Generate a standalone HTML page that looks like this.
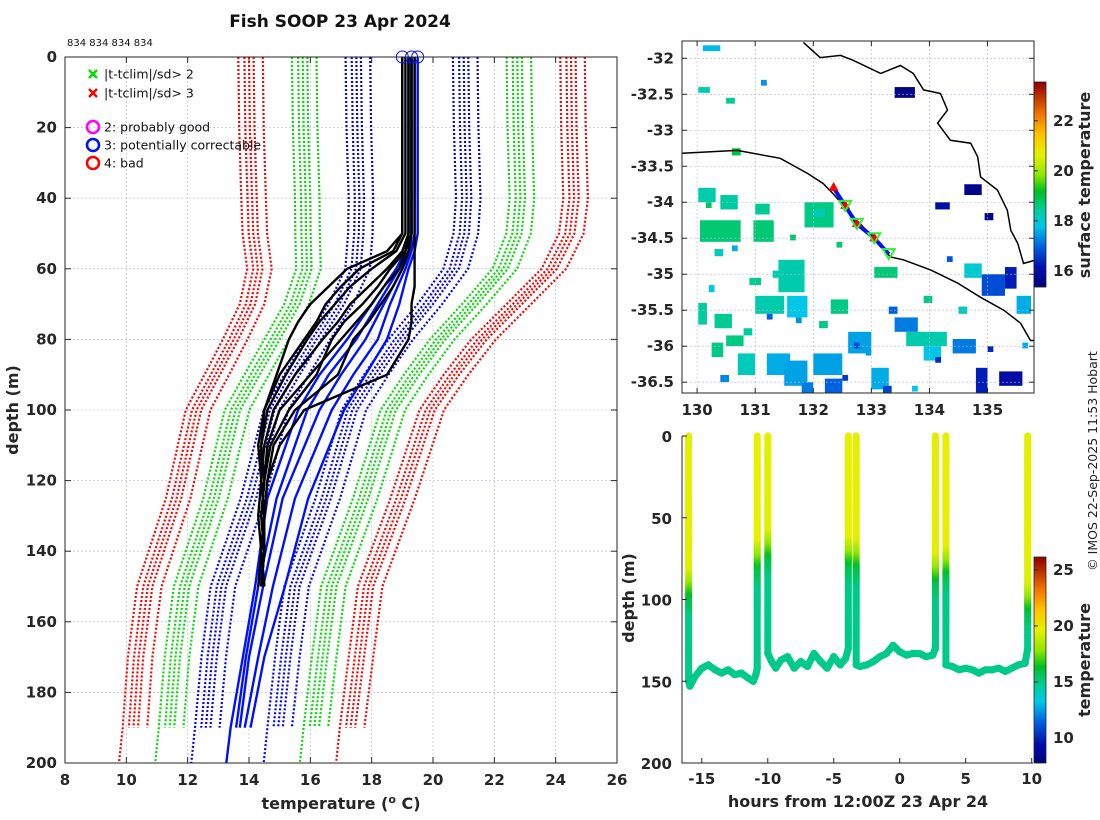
<!DOCTYPE html>
<html><head><meta charset="utf-8">
<style>
html,body{margin:0;padding:0;background:#fff;}
svg{display:block;font-family:"DejaVu Sans","Liberation Sans",sans-serif;}
.tk{font-size:15px;font-weight:bold;fill:#262626;}
.lab{font-size:16px;font-weight:bold;fill:#262626;}
.grid{stroke:#b0b8d8;stroke-width:0.6;stroke-dasharray:2,2;}
</style></head>
<body>
<svg id="fig" width="1100" height="820" viewBox="0 0 1100 820" xmlns="http://www.w3.org/2000/svg">
<g id="left"></g>
<g id="map"></g>
<g id="sect"></g>
<text x="340" y="27" text-anchor="middle" font-size="17" font-weight="bold" fill="#111">Fish SOOP 23 Apr 2024</text>
<text x="67" y="46" font-size="10" fill="#111">834 834 834 834</text>
<text transform="translate(1097,461) rotate(-90)" text-anchor="middle" font-size="12.5" fill="#222">© IMOS 22-Sep-2025 11:53 Hobart</text>
</svg>
<script>
// ---------- DATA ----------
const climDepth = [0,20,40,50,60,70,80,90,100,125,150,170,190,200];
const climMean  = [19.25,19.28,19.35,19.3,19.09,18.4,17.55,16.8,16.1,15.3,14.3,14.0,13.77,13.65];
const climSd    = [1.75,1.75,1.75,1.72,1.6,1.45,1.35,1.3,1.27,1.22,1.2,1.2,1.18,1.18];
const climOffsets = [-0.15,0,0.15,0.45,-0.35];
const climMaxDepth = [190,190,190,190,200];
const sdLevels = [1,2,3];

const blueDepth = [0,50,55,60,70,80,90,100,125,150,170,190,200];
const blue1 = [19.2,19.2,19.1,18.8,18.0,17.2,16.3,15.6,14.6,14.2,13.8,13.4,13.26];
const blue2 = [19.3,19.3,19.2,18.9,18.2,17.5,16.6,15.9,14.9,14.3,13.9,13.58];
const blue3 = [19.3,19.3,19.25,19.0,18.4,17.8,17.0,16.3,15.1,14.46,14.0,13.70];
const blue4 = [19.4,19.4,19.3,19.1,18.6,18.2,17.4,16.7,15.5,14.78,14.3,13.86];
const blue5 = [19.5,19.5,19.4,19.2,18.9,18.5,17.8,17.1,15.93,15.17,14.5,14.05];

const blackDepth = [0,50,55,60,65,70,75,80,90,100,110,120,130,140,150];
const black1 = [19.0,19.0,18.5,17.2,16.6,16.0,15.6,15.3,14.9,14.5,14.4,14.4,14.5,14.4,14.5];
const black2 = [19.1,19.1,18.8,18.0,17.3,16.8,16.3,15.9,15.2,14.6,14.4,14.5,14.4,14.5,14.4];
const black3 = [19.2,19.2,19.0,18.5,17.9,17.3,16.9,16.4,15.5,14.8,14.5,14.4,14.5,14.4,14.5];
const black4 = [19.2,19.2,19.1,18.9,18.4,18.0,17.5,17.0,16.0,15.0,14.6,14.5,14.4,14.5,14.4];
const black5 = [19.3,19.3,19.2,19.0,18.7,18.3,17.9,17.4,16.9,15.5,14.8,14.6,14.5,14.4,14.5];
const black6 = [19.4,19.4,19.4,19.4,19.4,19.3,19.3,19.2,18.5,15.8,15.0,14.6,14.5,14.5,14.4];
const black7 = [19.0,19.0,18.7,17.6,17.0,16.5,16.2,15.8,15.0,14.5,14.3,14.4,14.3,14.4,14.3];
const black8 = [19.3,19.3,19.1,18.6,18.2,17.7,17.1,16.7,16.2,15.3,14.7,14.5,14.4,14.5,14.4];
const surfaceFlagTemps = [19.0,19.3,19.5];

const tempTicks = [8,10,12,14,16,18,20,22,24,26];
const depthTicks = [0,20,40,60,80,100,120,140,160,180,200];

// map
const latTicks = [-32,-32.5,-33,-33.5,-34,-34.5,-35,-35.5,-36,-36.5];
const lonTicks = [130,131,132,133,134,135];
const coastLon1 = [129.74,130.69,131.43,131.9,132.17,132.34,132.69,133.03,133.33,133.55,134.02,134.48,134.88,135.28,135.57,135.74,135.85];
const coastLat1 = [-33.32,-33.28,-33.39,-33.6,-33.74,-33.88,-34.2,-34.49,-34.76,-34.8,-34.94,-35.12,-35.32,-35.5,-35.68,-35.92,-35.92];
const coastLon2 = [131.83,132.12,132.47,132.69,133.16,133.5,133.72,133.9,134.19,134.31,134.14,134.36,134.71,134.83,134.88,135.17,135.34,135.4,135.52,135.62,135.85];
const coastLat2 = [-31.78,-31.99,-31.96,-32.03,-32.21,-32.1,-32.21,-32.44,-32.49,-32.72,-32.9,-33.14,-33.18,-33.37,-33.65,-33.83,-34.11,-34.39,-34.57,-34.85,-34.8];
const sstLon = [130.05,130.97,131.0,131.85,131.4,131.55,131.0,132.3,130.3,130.02,130.25,130.5,130.7,131.2,131.5,132.0,132.6,133.4,133.6,133.0,133.05,134.6,134.9,135.3,134.8,135.2,134.4,130.02,130.4,130.6,134.6,134.1,134.95,133.4,132.2,131.8,130.02,130.5,130.1,132.0,133.9,135.5,
 130.3,130.6,130.9,131.3,131.7,132.1,132.5,132.9,133.3,133.7,134.1,134.5,130.2,130.8,131.2,132.7,133.9,135.6,131.6,130.4,132.4,134.3,135.0,131.1,130.15,133.2];
const sstLat = [-34.25,-34.25,-34.02,-34.0,-34.8,-35.3,-35.3,-35.35,-35.55,-35.4,-35.95,-35.85,-36.1,-36.1,-36.2,-36.1,-35.8,-35.6,-35.8,-36.3,-34.9,-34.85,-35.0,-34.9,-36.3,-36.35,-35.9,-33.8,-33.9,-33.25,-33.75,-34.0,-34.15,-32.4,-36.45,-36.5,-32.4,-32.55,-31.82,-34.1,-36.0,-35.3,
 -34.65,-34.6,-35.05,-34.95,-35.6,-35.65,-36.4,-36.05,-35.45,-36.55,-36.15,-35.45,-35.15,-35.75,-35.55,-35.95,-35.3,-35.95,-34.45,-36.4,-34.55,-34.75,-36.0,-32.3,-34.0,-36.55];
const sstW = [0.7,0.35,0.25,0.5,0.45,0.35,0.5,0.3,0.3,0.15,0.2,0.3,0.3,0.4,0.4,0.5,0.4,0.4,0.7,0.3,0.4,0.3,0.4,0.2,0.2,0.4,0.4,0.3,0.3,0.15,0.3,0.25,0.15,0.35,0.3,0.2,0.2,0.15,0.3,0.2,0.3,0.25,
 0.15,0.1,0.2,0.15,0.1,0.15,0.1,0.1,0.15,0.1,0.1,0.15,0.1,0.15,0.1,0.1,0.15,0.1,0.1,0.15,0.1,0.1,0.1,0.1,0.1,0.15];
const sstH = [0.3,0.3,0.15,0.35,0.45,0.3,0.25,0.2,0.2,0.3,0.2,0.15,0.3,0.3,0.35,0.3,0.3,0.2,0.2,0.3,0.15,0.2,0.3,0.3,0.4,0.2,0.2,0.2,0.2,0.1,0.15,0.1,0.1,0.15,0.2,0.15,0.08,0.08,0.08,0.1,0.2,0.25,
 0.1,0.08,0.1,0.1,0.08,0.1,0.08,0.08,0.1,0.08,0.08,0.1,0.1,0.1,0.08,0.08,0.1,0.08,0.08,0.1,0.08,0.08,0.08,0.08,0.08,0.1];
const sstVal = [18.7,18.7,18.5,18.6,18.3,17.8,18.3,18.6,18.5,18.4,18.6,18.6,18.2,17.6,17.5,17.5,17.5,17.2,18.3,17.6,18.7,18.0,16.8,16.3,16.3,16.0,17.2,18.3,18.4,19.0,15.6,16.0,15.6,15.6,17.0,17.2,18.3,18.5,17.7,18.2,17.8,17.6,
 18.2,17.6,18.5,18.3,17.4,18.6,16.6,17.5,17.0,17.8,16.5,18.2,17.8,18.4,17.0,16.8,18.6,17.6,18.8,17.3,18.7,16.9,16.4,17.4,18.8,16.7];
const trackLon = [132.35,132.55,132.75,133.05,133.3];
const trackLat = [-33.8,-34.05,-34.3,-34.5,-34.72];
const sstRange = [15.35,23.55];
const sstCbTicks = [16,18,20,22];

// section
const hourTicks = [-15,-10,-5,0,5,10];
const secDepthTicks = [0,50,100,150,200];
const secHours = [-16.0,-16.0,-15.9,-15.5,-15,-14.5,-14,-13.5,-13,-12.5,-12,-11.5,-11.1,-10.9,-10.8,-10.8,
 -10.0,-10.0,-9.7,-9.4,-9,-8.5,-8,-7.5,-7,-6.5,-6,-5.5,-5,-4.5,-4.1,-3.9,-3.9,
 -3.3,-3.3,-3,-2.5,-2,-1.5,-1,-0.5,0,0.5,1,1.5,2,2.5,2.7,2.7,
 3.5,3.5,4,4.5,5,5.5,6,6.5,7,7.5,8,8.5,9,9.5,9.7,9.7];
const secDepths = [0,150,153,147,142,140,143,145,143,146,145,148,150,146,142,0,
 0,133,138,142,137,135,142,138,141,133,138,142,135,140,136,130,0,
 0,140,141,140,138,135,133,128,132,134,133,133,135,134,130,0,
 0,140,141,143,142,143,145,143,143,142,144,142,140,139,130,0];
const castHours = [-16.0,-10.8,-10.0,-3.9,-3.3,2.7,3.5,9.7];
const castMld = [82,62,58,60,64,70,68,88];
const castSurfT = [19.6,19.7,19.6,19.7,19.6,19.6,19.7,19.6];
const deepT = 15.0;
const secRange = [7.77,26.15];
const secCbTicks = [10,15,20,25];

// ---------- HELPERS ----------
const NS = "http://www.w3.org/2000/svg";
function mk(parent, tag, attrs){const e=document.createElementNS(NS,tag);for(const k in attrs)e.setAttribute(k,attrs[k]);parent.appendChild(e);return e;}
const cmStops=[[0,[0,0,122]],[0.1,[0,16,176]],[0.2,[0,96,224]],[0.3,[0,200,232]],[0.38,[0,204,153]],[0.47,[0,192,32]],[0.55,[144,232,0]],[0.65,[232,240,0]],[0.75,[255,192,0]],[0.85,[240,112,0]],[1,[144,0,0]]];
function cmap(t){t=Math.max(0,Math.min(1,t));for(let i=0;i<cmStops.length-1;i++){const a=cmStops[i],b=cmStops[i+1];if(t<=b[0]){const f=(t-a[0])/(b[0]-a[0]);const c=a[1].map((v,j)=>Math.round(v+f*(b[1][j]-v)));return `rgb(${c[0]},${c[1]},${c[2]})`;}}return "rgb(144,0,0)";}

// ---------- LEFT PROFILE PLOT ----------
(function(){
const g=document.getElementById('left');
const X0=65,X1=617,Y0=57,Y1=763;
const xs=t=>X0+(t-8)/(26-8)*(X1-X0);
const ys=d=>Y0+d/200*(Y1-Y0);
tempTicks.forEach(t=>{const l=mk(g,'line',{x1:xs(t),x2:xs(t),y1:Y0,y2:Y1,class:'grid'});


mk(g,'line',{x1:xs(t),x2:xs(t),y1:Y1,y2:Y1-6,stroke:'#262626'});mk(g,'line',{x1:xs(t),x2:xs(t),y1:Y0,y2:Y0+6,stroke:'#262626'});
const tx=mk(g,'text',{x:xs(t),y:Y1+22,'text-anchor':'middle',class:'tk'});tx.textContent=t;

});
depthTicks.forEach(d=>{const l=mk(g,'line',{x1:X0,x2:X1,y1:ys(d),y2:ys(d),class:'grid'});


mk(g,'line',{x1:X0,x2:X0+6,y1:ys(d),y2:ys(d),stroke:'#262626'});mk(g,'line',{x1:X1,x2:X1-6,y1:ys(d),y2:ys(d),stroke:'#262626'});
const tx=mk(g,'text',{x:X0-8,y:ys(d)+5,'text-anchor':'end',class:'tk'});tx.textContent=d;

});
const cols={1:'#0000ff',2:'#00dd00',3:'#ff0000'};
climOffsets.forEach((off,oi)=>{sdLevels.forEach(k=>{[-1,1].forEach(sg=>{
 const pts=[];climDepth.forEach((d,i)=>{if(d<=climMaxDepth[oi])pts.push(xs(climMean[i]+off+sg*k*climSd[i]).toFixed(1)+','+ys(d).toFixed(1));});
 const p=mk(g,'polyline',{points:pts.join(' '),fill:'none',stroke:cols[k],'stroke-width':2.2,'stroke-dasharray':'2,2'});
 
 
});});});
function prof(depths,vals,color,w,name){const pts=vals.map((v,i)=>xs(v).toFixed(1)+','+ys(depths[i]).toFixed(1));
 const p=mk(g,'polyline',{points:pts.join(' '),fill:'none',stroke:color,'stroke-width':w,'stroke-linejoin':'round'});
 
 }
[blue1,blue2,blue3,blue4,blue5].forEach(b=>prof(blueDepth,b,'#0010ff',2.4,'profile-blue'));
[black1,black2,black3,black4,black5,black6,black7,black8].forEach(b=>prof(blackDepth,b,'#000',2.4,'profile-black'));
surfaceFlagTemps.forEach(t=>{const c=mk(g,'circle',{cx:xs(t),cy:ys(0),r:6,fill:'none',stroke:'#0010ff','stroke-width':1});

});
mk(g,'rect',{x:X0,y:Y0,width:X1-X0,height:Y1-Y0,fill:'none',stroke:'#262626','stroke-width':1});
const lg=mk(g,'g',{});


const items=[['x','#00dd00',74,'|t-tclim|/sd> 2'],['x','#ff0000',93,'|t-tclim|/sd> 3'],['o','#ff00ff',127,'2: probably good'],['o','#0010ff',145,'3: potentially correctable'],['o','#ff0000',163,'4: bad']];
items.forEach(it=>{const e=mk(lg,'g',{});
 
 
 if(it[0]=='x'){mk(e,'path',{d:`M89 ${it[2]-4}l8 8M97 ${it[2]-4}l-8 8`,stroke:it[1],'stroke-width':2.5});}
 else mk(e,'circle',{cx:93,cy:it[2],r:6,fill:'none',stroke:it[1],'stroke-width':2.6});
 const t=mk(e,'text',{x:104,y:it[2]+4.5,'font-size':12.5,fill:'#111'});t.textContent=it[3];});
const xl=mk(g,'text',{x:341,y:809,'text-anchor':'middle',class:'lab'});
xl.innerHTML='temperature (<tspan dy="-6" font-size="11">o</tspan><tspan dy="6"> C)</tspan>';


const yl=mk(g,'text',{transform:'translate(18,410) rotate(-90)','text-anchor':'middle',class:'lab'});yl.textContent='depth (m)';


})();

// ---------- MAP ----------
(function(){
const g=document.getElementById('map');
const X0=682,X1=1034,Y0=41,Y1=393;
const lonMin=129.74,lonMax=135.8,latMax=-31.76,latMin=-36.65;
const xs=l=>X0+(l-lonMin)/(lonMax-lonMin)*(X1-X0);
const ys=l=>Y0+(latMax-l)/(latMax-latMin)*(Y1-Y0);
const cl=mk(g,'clipPath',{id:'mapclip'});mk(cl,'rect',{x:X0,y:Y0,width:X1-X0,height:Y1-Y0});
const inner=mk(g,'g',{'clip-path':'url(#mapclip)'});
sstLon.forEach((lo,i)=>{const r=mk(inner,'rect',{x:xs(lo),y:ys(sstLat[i]),width:sstW[i]/(lonMax-lonMin)*(X1-X0),height:sstH[i]/(latMax-latMin)*(Y1-Y0),fill:cmap((sstVal[i]-sstRange[0])/(sstRange[1]-sstRange[0]))});

});
latTicks.forEach(l=>{const gl=mk(inner,'line',{x1:X0,x2:X1,y1:ys(l),y2:ys(l),class:'grid'});


mk(g,'line',{x1:X0,x2:X0+5,y1:ys(l),y2:ys(l),stroke:'#262626'});mk(g,'line',{x1:X1,x2:X1-5,y1:ys(l),y2:ys(l),stroke:'#262626'});
const t=mk(g,'text',{x:X0-8,y:ys(l)+5,'text-anchor':'end',class:'tk'});t.textContent=l;

});
lonTicks.forEach(l=>{const gl=mk(inner,'line',{x1:xs(l),x2:xs(l),y1:Y0,y2:Y1,class:'grid'});


mk(g,'line',{x1:xs(l),x2:xs(l),y1:Y1,y2:Y1-5,stroke:'#262626'});mk(g,'line',{x1:xs(l),x2:xs(l),y1:Y0,y2:Y0+5,stroke:'#262626'});
const t=mk(g,'text',{x:xs(l),y:Y1+22,'text-anchor':'middle',class:'tk'});t.textContent=l;

});
[[coastLon1,coastLat1],[coastLon2,coastLat2]].forEach(c=>{const p=mk(inner,'polyline',{points:c[0].map((lo,i)=>xs(lo).toFixed(1)+','+ys(c[1][i]).toFixed(1)).join(' '),fill:'none',stroke:'#000','stroke-width':1.5});

});
const tr=mk(inner,'polyline',{points:trackLon.map((lo,i)=>xs(lo).toFixed(1)+','+ys(trackLat[i]).toFixed(1)).join(' '),fill:'none',stroke:'#0010ff','stroke-width':4});


trackLon.forEach((lo,i)=>{const x=xs(lo),y=ys(trackLat[i]);
 if(i<4){const a=mk(inner,'path',{d:`M${x} ${y-6}L${x+5} ${y+3}L${x-5} ${y+3}Z`,fill:'#ff0000'});
 
 }
 if(i>0){const b=mk(inner,'path',{d:`M${x-6} ${y-5}L${x+6} ${y-5}L${x} ${y+5}Z`,fill:'none',stroke:'#33ee33','stroke-width':2});
 
 }});
mk(g,'rect',{x:X0,y:Y0,width:X1-X0,height:Y1-Y0,fill:'none',stroke:'#262626','stroke-width':1});
const cb=mk(g,'g',{});


const CY0=82,CY1=287,CX=1034,CW=12;
for(let y=CY0;y<CY1;y++){mk(cb,'rect',{x:CX,y:y,width:CW,height:1.2,fill:cmap(1-(y-CY0)/(CY1-CY0))});}
mk(cb,'rect',{x:CX,y:CY0,width:CW,height:CY1-CY0,fill:'none',stroke:'#262626','stroke-width':0.8});
const cys=v=>CY1-(v-sstRange[0])/(sstRange[1]-sstRange[0])*(CY1-CY0);
sstCbTicks.forEach(v=>{mk(cb,'line',{x1:CX,x2:CX+4,y1:cys(v),y2:cys(v),stroke:'#262626'});
const t=mk(cb,'text',{x:CX+19,y:cys(v)+5,class:'tk'});t.textContent=v;

});
const lab=mk(cb,'text',{transform:'translate(1090,185) rotate(-90)','text-anchor':'middle',class:'lab','font-size':15});lab.textContent='surface temperature';


})();

// ---------- SECTION ----------
(function(){
const g=document.getElementById('sect');
const X0=682,X1=1033,Y0=436,Y1=763;
const hMin=-16.5,hMax=10.1;
const xs=h=>X0+(h-hMin)/(hMax-hMin)*(X1-X0);
const ys=d=>Y0+d/200*(Y1-Y0);
const tcol=t=>cmap((t-secRange[0])/(secRange[1]-secRange[0]));
function castTemp(ci,d){const m=castMld[ci];if(d<=m)return castSurfT[ci];if(d>=m+30)return deepT;const f=(d-m)/30;return castSurfT[ci]+(deepT+0.9-castSurfT[ci])*Math.min(1,f*1.6)-(f>0.6?(f-0.6)*2.2:0);}
function nearestCast(h){let bi=0,bd=1e9;castHours.forEach((c,i)=>{if(Math.abs(c-h)<bd){bd=Math.abs(c-h);bi=i;}});return [bi,bd];}
for(let i=0;i<secHours.length-1;i++){
 const h0=secHours[i],h1=secHours[i+1],d0=secDepths[i],d1=secDepths[i+1];
 if(d0===0&&d1===0)continue;
 const steps=Math.max(2,Math.ceil(Math.hypot(xs(h1)-xs(h0),ys(d1)-ys(d0))/2));
 for(let s=0;s<=steps;s++){const f=s/steps;const h=h0+f*(h1-h0),d=d0+f*(d1-d0);
  const [ci,dist]=nearestCast(h);const t=dist<0.05?castTemp(ci,d):deepT;
  const c=mk(g,'circle',{cx:xs(h).toFixed(1),cy:ys(d).toFixed(1),r:3.6,fill:tcol(t)});
  
  }
}
hourTicks.forEach(h=>{mk(g,'line',{x1:xs(h),x2:xs(h),y1:Y1,y2:Y1-5,stroke:'#262626'});
const t=mk(g,'text',{x:xs(h),y:Y1+21,'text-anchor':'middle',class:'tk'});t.textContent=h;

});
secDepthTicks.forEach(d=>{mk(g,'line',{x1:X0,x2:X0+5,y1:ys(d),y2:ys(d),stroke:'#262626'});
const t=mk(g,'text',{x:X0-10,y:ys(d)+6,'text-anchor':'end',class:'tk','font-size':16});t.textContent=d;

});
mk(g,'path',{d:`M${X0} ${Y0}V${Y1}H${X1}`,fill:'none',stroke:'#262626','stroke-width':1});
const cb=mk(g,'g',{});


const CY0=557,CY1=763,CX=1034,CW=12;
for(let y=CY0;y<CY1;y++){mk(cb,'rect',{x:CX,y:y,width:CW,height:1.2,fill:cmap(1-(y-CY0)/(CY1-CY0))});}
mk(cb,'rect',{x:CX,y:CY0,width:CW,height:CY1-CY0,fill:'none',stroke:'#262626','stroke-width':0.8});
const cys=v=>CY1-(v-secRange[0])/(secRange[1]-secRange[0])*(CY1-CY0);
secCbTicks.forEach(v=>{mk(cb,'line',{x1:CX,x2:CX+4,y1:cys(v),y2:cys(v),stroke:'#262626'});
const t=mk(cb,'text',{x:CX+19,y:cys(v)+5,class:'tk'});t.textContent=v;

});
const lab=mk(cb,'text',{transform:'translate(1090,660) rotate(-90)','text-anchor':'middle',class:'lab','font-size':15});lab.textContent='temperature';


const xl=mk(g,'text',{x:858,y:807,'text-anchor':'middle',class:'lab'});xl.textContent='hours from 12:00Z 23 Apr 24';


const yl=mk(g,'text',{transform:'translate(634,598) rotate(-90)','text-anchor':'middle',class:'lab'});yl.textContent='depth (m)';


})();
</script>
</body></html>
